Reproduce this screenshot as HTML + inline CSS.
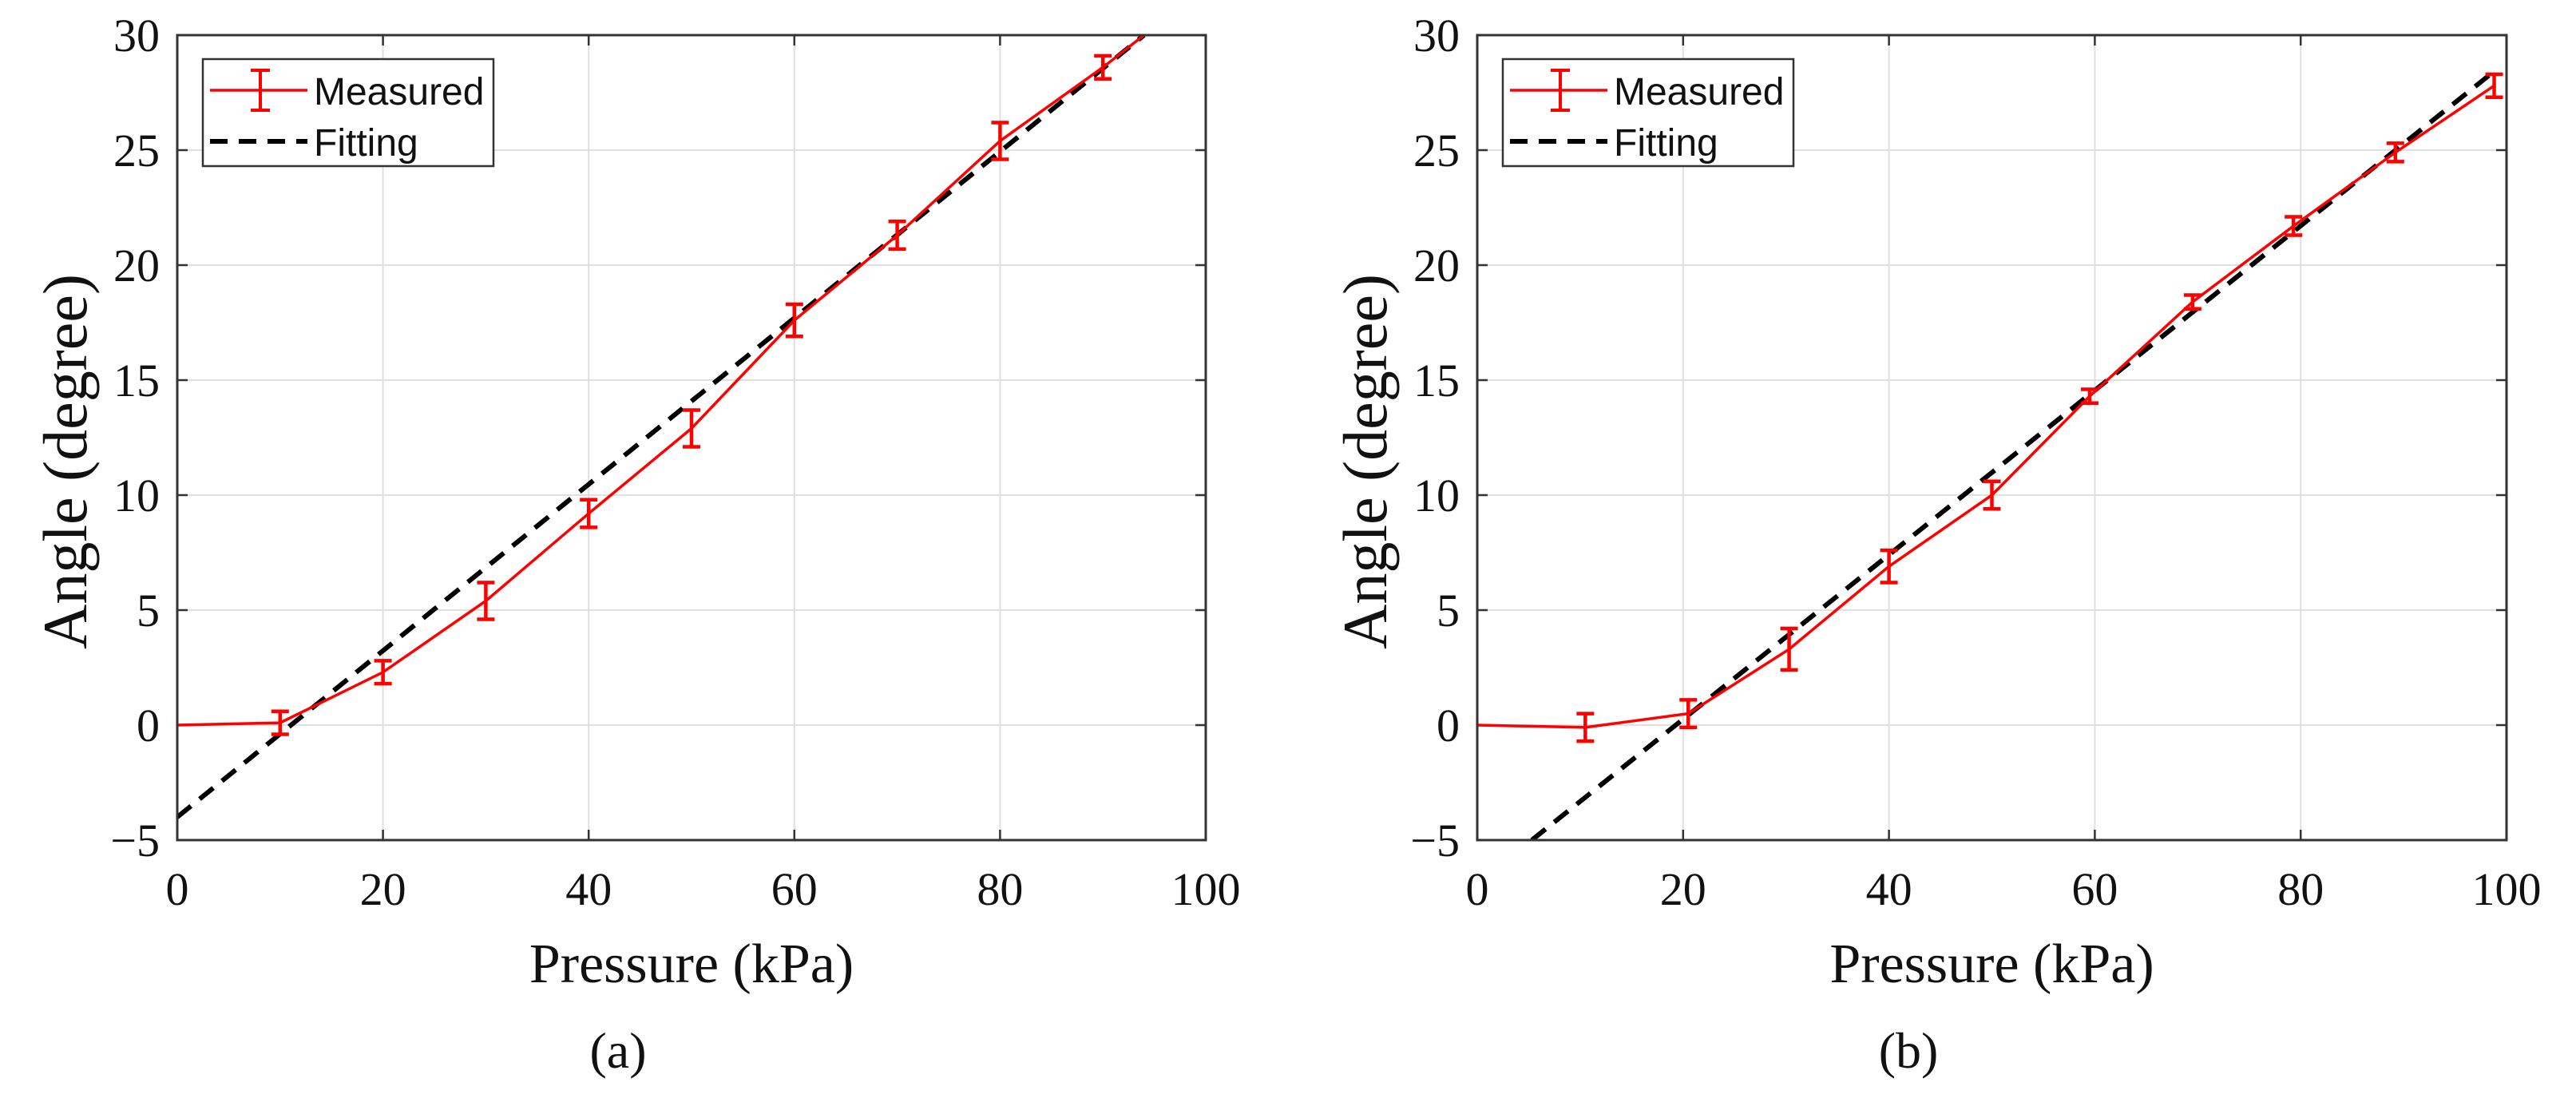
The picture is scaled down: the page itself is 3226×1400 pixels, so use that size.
<!DOCTYPE html>
<html><head><meta charset="utf-8"><style>
html,body{margin:0;padding:0;background:#fff;}
svg{display:block;}
</style></head><body>
<svg id="fig" width="3226" height="1400" viewBox="0 0 3226 1400" xmlns="http://www.w3.org/2000/svg"></svg>
<script>
// Panel (a) data
const xA = [0, 10, 20, 30, 40, 50, 60, 70, 80, 90, 100];
const yA = [0, 0.1, 2.3, 5.4, 9.2, 12.9, 17.6, 21.3, 25.4, 28.6, 32.1];
const errA = [0, 0.5, 0.5, 0.8, 0.6, 0.8, 0.7, 0.6, 0.8, 0.5, 0];
const fitA = [[0, -4], [94, 30]];
// Panel (b) data
const xB = [0, 10.5, 20.5, 30.3, 40, 50, 59.5, 69.5, 79.3, 89.2, 98.8];
const yB = [0, -0.1, 0.5, 3.3, 6.9, 10, 14.3, 18.4, 21.7, 24.9, 27.8];
const errB = [0, 0.6, 0.6, 0.9, 0.7, 0.6, 0.3, 0.3, 0.4, 0.4, 0.5];
const fitB = [[5.3, -5], [99, 28.5]];
const xTicks = [0, 20, 40, 60, 80, 100];
const yTicks = [-5, 0, 5, 10, 15, 20, 25, 30];
const xTickLabels = ["0", "20", "40", "60", "80", "100"];
const yTickLabels = ["\u22125", "0", "5", "10", "15", "20", "25", "30"];

const NS = "http://www.w3.org/2000/svg";
const svg = document.getElementById('fig');
function mk(tag, attrs, parent) {
  const e = document.createElementNS(NS, tag);
  for (const k in attrs) e.setAttribute(k, attrs[k]);
  (parent || svg).appendChild(e);
  return e;
}

function panel(id, L, R, xs, ys, errs, fit, letter, ylabX, letterX) {
  const T = 44, B = 1052;
  const sx = v => L + (v - 0) / 100 * (R - L);
  const sy = v => B - (v + 5) / 35 * (B - T);
  const g = mk('g', {});
  
  
  const clip = mk('clipPath', {id: 'clip' + id}, g);
  mk('rect', {x: L, y: T, width: R - L, height: B - T}, clip);
  xTicks.forEach((t, i) => {
    const x = sx(t);
    const gl = mk('line', {x1: x, x2: x, y1: T, y2: B, stroke: '#e0e0e0', 'stroke-width': 2}, g);
    
    
    mk('line', {x1: x, x2: x, y1: B, y2: B - 13, stroke: '#333', 'stroke-width': 2.5}, g);
    mk('line', {x1: x, x2: x, y1: T, y2: T + 13, stroke: '#333', 'stroke-width': 2.5}, g);
    const tl = mk('text', {x: x, y: 1133, 'text-anchor': 'middle', 'font-family': 'Liberation Serif, serif', 'font-size': 58, fill: '#111'}, g);
    tl.textContent = xTickLabels[i];
    
    
  });
  yTicks.forEach((t, i) => {
    const y = sy(t);
    const gl = mk('line', {x1: L, x2: R, y1: y, y2: y, stroke: '#e0e0e0', 'stroke-width': 2}, g);
    
    
    mk('line', {x1: L, x2: L + 13, y1: y, y2: y, stroke: '#333', 'stroke-width': 2.5}, g);
    mk('line', {x1: R, x2: R - 13, y1: y, y2: y, stroke: '#333', 'stroke-width': 2.5}, g);
    const tl = mk('text', {x: L - 22, y: y + 20, 'text-anchor': 'end', 'font-family': 'Liberation Serif, serif', 'font-size': 58, fill: '#111'}, g);
    tl.textContent = yTickLabels[i];
    
    
  });
  const cg = mk('g', {'clip-path': 'url(#clip' + id + ')'}, g);
  const fl = mk('line', {x1: sx(fit[0][0]), y1: sy(fit[0][1]), x2: sx(fit[1][0]), y2: sy(fit[1][1]), stroke: '#000', 'stroke-width': 6, 'stroke-dasharray': '22 14'}, cg);
  
  
  const pts = xs.map((x, i) => sx(x) + ',' + sy(ys[i])).join(' ');
  const ml = mk('polyline', {points: pts, fill: 'none', stroke: '#ff0000', 'stroke-width': 3.5}, cg);
  
  
  xs.forEach((x, i) => {
    if (!errs[i]) return;
    const px = sx(x), y1 = sy(ys[i] - errs[i]), y2 = sy(ys[i] + errs[i]);
    const eb = mk('path', {d: `M${px},${y1}V${y2}M${px-11},${y1}H${px+11}M${px-11},${y2}H${px+11}`, stroke: '#ff0000', 'stroke-width': 4.5, fill: 'none'}, cg);
    
    
  });
  mk('rect', {x: L, y: T, width: R - L, height: B - T, fill: 'none', stroke: '#333', 'stroke-width': 3}, g);
  const lg = mk('g', {}, g);
  
  
  const lx = L + 32;
  mk('rect', {x: lx, y: 74, width: 364, height: 134, fill: '#fff', stroke: '#333', 'stroke-width': 2.5}, lg);
  mk('line', {x1: lx + 9, x2: lx + 131, y1: 113, y2: 113, stroke: '#ff0000', 'stroke-width': 3.5}, lg);
  mk('path', {d: `M${lx+72},88V138M${lx+60},88H${lx+84}M${lx+60},138H${lx+84}`, stroke: '#ff0000', 'stroke-width': 4, fill: 'none'}, lg);
  const t1 = mk('text', {x: lx + 139, y: 131, 'font-family': 'Liberation Sans, sans-serif', 'font-size': 48, fill: '#111'}, lg);
  t1.textContent = 'Measured';
  
  
  mk('line', {x1: lx + 9, x2: lx + 131, y1: 177, y2: 177, stroke: '#000', 'stroke-width': 6, 'stroke-dasharray': '22 14'}, lg);
  const t2 = mk('text', {x: lx + 139, y: 195, 'font-family': 'Liberation Sans, sans-serif', 'font-size': 48, fill: '#111'}, lg);
  t2.textContent = 'Fitting';
  
  
  const xt = mk('text', {x: (L + R) / 2, y: 1230, 'text-anchor': 'middle', 'font-family': 'Liberation Serif, serif', 'font-size': 70, fill: '#111'}, g);
  xt.textContent = 'Pressure (kPa)';
  
  
  const yc = 578;
  const yt = mk('text', {x: ylabX, y: yc, 'text-anchor': 'middle', 'font-family': 'Liberation Serif, serif', 'font-size': 78, fill: '#111', transform: `rotate(-90 ${ylabX} ${yc})`}, g);
  yt.textContent = 'Angle (degree)';
  
  
  const lt = mk('text', {x: letterX, y: 1337, 'text-anchor': 'middle', 'font-family': 'Liberation Serif, serif', 'font-size': 64, fill: '#111'}, g);
  lt.textContent = '(' + letter + ')';
  
  
}
panel('a', 222, 1510, xA, yA, errA, fitA, 'a', 108, 774);
panel('b', 1850, 3139, xB, yB, errB, fitB, 'b', 1736, 2390);
</script>
</body></html>
